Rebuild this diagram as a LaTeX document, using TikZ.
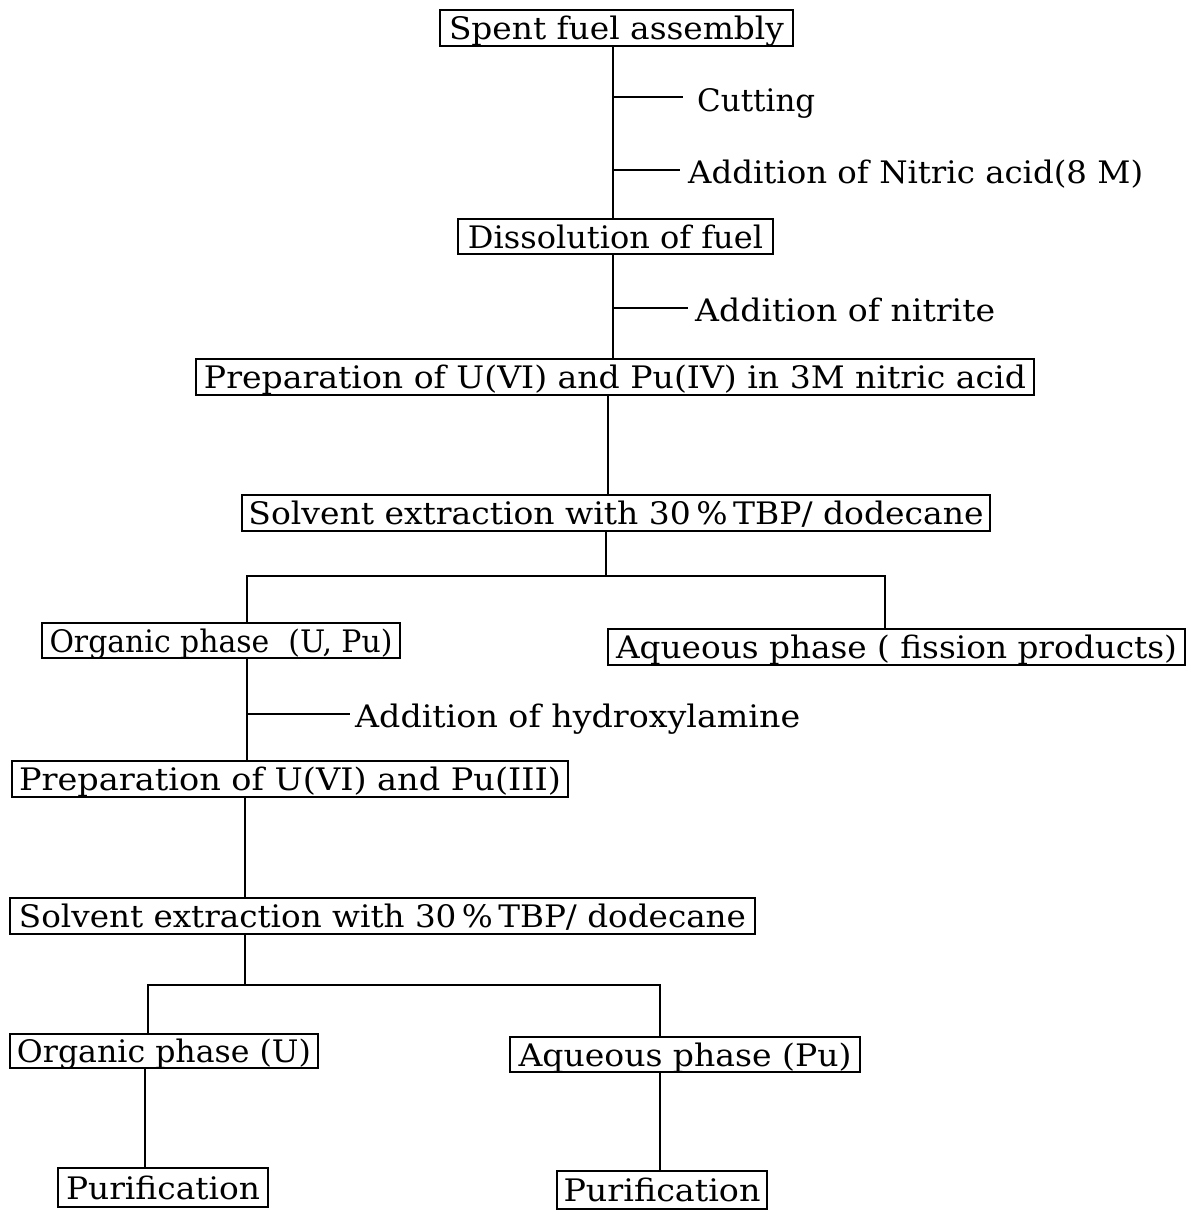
\documentclass[tikz,border=0pt]{standalone}
\usepackage{fontspec}
\usepackage{graphicx}
\setmainfont{DejaVu Serif}
\newcommand{\fs}{\fontsize{31}{36}\selectfont}
\newcommand{\fitw}[2]{\resizebox{#1pt}{\height}{#2}}
\begin{document}
\begin{tikzpicture}[x=1pt,y=-1pt,
  box/.style={draw, line width=2.8pt, inner sep=0pt, font=\fs, text height=23pt, text depth=0pt},
  lbl/.style={inner sep=0pt, font=\fs, anchor=base west},
  ln/.style={line width=2.8pt}]
\useasboundingbox (0,0) rectangle (1191,1211);
% boxes: center, width, height
\node[box, minimum width=353pt, minimum height=36pt] (sfa) at (616.5,28) {\fitw{335}{Spent fuel assembly}};
\node[box, minimum width=315pt, minimum height=35pt] (dis) at (615.5,236.5) {\fitw{295}{Dissolution of fuel}};
\node[box, minimum width=838pt, minimum height=36pt] (prep1) at (615,377) {\fitw{822}{Preparation of U(VI) and Pu(IV) in 3M nitric acid}};
\node[box, minimum width=748pt, minimum height=36pt] (sol1) at (616,513) {\fitw{735}{Solvent extraction with 30\,\%\,TBP/ dodecane}};
\node[box, minimum width=358pt, minimum height=35pt] (org1) at (221,640.5) {\fitw{343}{Organic phase~ (U, Pu)}};
\node[box, minimum width=577pt, minimum height=36pt] (aq1) at (896.5,647) {\fitw{561}{Aqueous phase ( fission products)}};
\node[box, minimum width=556pt, minimum height=36pt] (prep2) at (290,779) {\fitw{542}{Preparation of U(VI) and Pu(III)}};
\node[box, minimum width=745pt, minimum height=36pt] (sol2) at (382.5,916) {\fitw{727}{Solvent extraction with 30\,\%\,TBP/ dodecane}};
\node[box, minimum width=308pt, minimum height=34pt] (org2) at (164,1051) {\fitw{294}{Organic phase (U)}};
\node[box, minimum width=350pt, minimum height=35pt] (aq2) at (685,1054.5) {\fitw{333}{Aqueous phase (Pu)}};
\node[box, minimum width=210pt, minimum height=39pt] (pur1) at (163,1187.5) {\fitw{194}{Purification}};
\node[box, minimum width=210pt, minimum height=38pt] (pur2) at (662,1190) {\fitw{197}{Purification}};
% labels
\node[lbl] (cut) at (697,111) {\fitw{118}{Cutting}};
\node[lbl] (nit) at (688,183) {\fitw{455}{Addition of Nitric acid(8 M)}};
\node[lbl] (nitr) at (695,321) {\fitw{300}{Addition of nitrite}};
\node[lbl] (hyd) at (355,727) {\fitw{445}{Addition of hydroxylamine}};
% coordinates
\coordinate (v1) at (613,0);
\coordinate (v2) at (608,0);
\coordinate (t1) at (613,97);
\coordinate (t2) at (613,170);
\coordinate (t3) at (613,308);
\coordinate (j1) at (606,576);
\coordinate (j1l) at (247,576);
\coordinate (j1r) at (885,576);
\coordinate (t4) at (247,714);
\coordinate (v3) at (245,0);
\coordinate (j2) at (245,985);
\coordinate (j2l) at (148,985);
\coordinate (j2r) at (660,985);
\coordinate (v4) at (145,0);
% connectors
\draw[ln] (sfa.south -| v1) -- (dis.north -| v1);
\draw[ln] (t1) -- ([xshift=-14pt]cut.west |- t1);
\draw[ln] (t2) -- ([xshift=-8pt]nit.west |- t2);
\draw[ln] (dis.south -| v1) -- (prep1.north -| v1);
\draw[ln] (t3) -- ([xshift=-7pt]nitr.west |- t3);
\draw[ln] (prep1.south -| v2) -- (sol1.north -| v2);
\draw[ln] (sol1.south -| j1) -- (j1);
\draw[ln] (org1.north -| j1l) |- (j1r) -- (aq1.north -| j1r);
\draw[ln] (org1.south -| j1l) -- (prep2.north -| j1l);
\draw[ln] (t4) -- ([xshift=-5pt]hyd.west |- t4);
\draw[ln] (prep2.south -| v3) -- (sol2.north -| v3);
\draw[ln] (sol2.south -| j2) -- (j2);
\draw[ln] (org2.north -| j2l) |- (j2r) -- (aq2.north -| j2r);
\draw[ln] (org2.south -| v4) -- (pur1.north -| v4);
\draw[ln] (aq2.south -| j2r) -- (pur2.north -| j2r);
\end{tikzpicture}
\end{document}
